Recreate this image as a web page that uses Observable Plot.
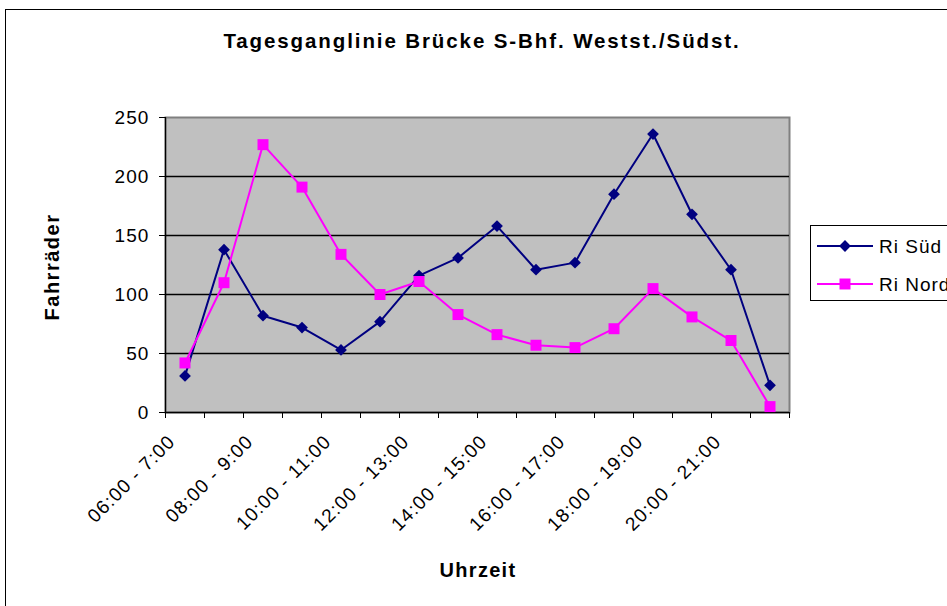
<!DOCTYPE html>
<html>
<head>
<meta charset="utf-8">
<script src="https://cdn.jsdelivr.net/npm/d3@7"></script>
<script src="https://cdn.jsdelivr.net/npm/@observablehq/plot@0.6"></script>
<style>
  html, body { margin: 0; padding: 0; background: #fff; overflow: hidden; }
  #wrap { position: relative; width: 947px; height: 606px; overflow: hidden; font-family: "Liberation Sans", Arial, sans-serif; }
  #border { position: absolute; left: 5px; top: 9px; width: 1100px; height: 800px; border: 1.5px solid #000; box-sizing: border-box; }
  #chart { position: absolute; left: 0; top: 0; }
  #overlay { position: absolute; left: 0; top: 0; pointer-events: none; }
</style>
</head>
<body>
<div id="wrap">
  <div id="border"></div>
  <div id="chart"></div>
  <svg id="overlay" width="947" height="606"></svg>
</div>
<script>
const categories = [
  "06:00 - 7:00", "07:00 - 8:00", "08:00 - 9:00", "09:00 - 10:00",
  "10:00 - 11:00", "11:00 - 12:00", "12:00 - 13:00", "13:00 - 14:00",
  "14:00 - 15:00", "15:00 - 16:00", "16:00 - 17:00", "17:00 - 18:00",
  "18:00 - 19:00", "19:00 - 20:00", "20:00 - 21:00", "21:00 - 22:00"
];
const riSued = [31, 138, 82, 72, 53, 77, 116, 131, 158, 121, 127, 185, 236, 168, 121, 23];
const riNord = [42, 110, 227, 191, 134, 100, 111, 83, 66, 57, 55, 71, 105, 81, 61, 5];
const yTicks = [0, 50, 100, 150, 200, 250];
const seriesNames = ["Ri Süd", "Ri Nord"];
const seriesColors = ["#000080", "#FF00FF"];
const title = "Tagesganglinie Brücke S-Bhf. Westst./Südst.";
const xTitle = "Uhrzeit";
const yTitle = "Fahrräder";

const sued = categories.map((c, i) => ({i: i + 0.5, v: riSued[i], cat: c}));
const nord = categories.map((c, i) => ({i: i + 0.5, v: riNord[i], cat: c}));
const labelTicks = categories.map((c, i) => i + 0.5).filter((d, k) => k % 2 === 0);

const chart = Plot.plot({
  width: 947,
  height: 606,
  marginLeft: 165,
  marginRight: 158,
  marginTop: 117,
  marginBottom: 194,
  style: {fontFamily: "'Liberation Sans', Arial, sans-serif", fontSize: "19px", letterSpacing: "1.1px", color: "#000", background: "transparent"},
  x: {type: "linear", domain: [0, categories.length]},
  y: {domain: [0, 250]},
  marks: [
    Plot.frame({fill: "#C0C0C0", stroke: "#808080", strokeWidth: 2}),
    Plot.gridY({ticks: [50, 100, 150, 200], stroke: "#000", strokeOpacity: 1, strokeWidth: 1.3}),
    Plot.axisY({ticks: yTicks, tickSize: 6, tickPadding: 10, fontSize: 19, label: null, stroke: "#000"}),
    Plot.axisX({ticks: d3.range(categories.length + 1), tickFormat: () => "", tickSize: 6, label: null}),
    Plot.axisX({ticks: labelTicks, tickFormat: d => categories[Math.round(d - 0.5)], tickRotate: -45, tickSize: 0, tickPadding: 26, dx: -13, fontSize: 19, letterSpacing: "0.8px", label: null}),
    Plot.ruleX([0], {stroke: "#000", strokeWidth: 1.3}),
    Plot.ruleY([0], {stroke: "#000", strokeWidth: 1.3}),
    Plot.line(sued, {x: "i", y: "v", stroke: seriesColors[0], strokeWidth: 2}),
    Plot.line(nord, {x: "i", y: "v", stroke: seriesColors[1], strokeWidth: 2}),
    Plot.dot(sued, {x: "i", y: "v", symbol: "diamond2", r: 5.3, fill: seriesColors[0], stroke: "none"}),
    Plot.dot(nord, {x: "i", y: "v", symbol: "square", r: 6.2, fill: seriesColors[1], stroke: "none"})
  ]
});
document.getElementById("chart").appendChild(chart);

// Titles and legend overlay
const ov = d3.select("#overlay");
ov.append("text").attr("x", 482).attr("y", 48).attr("text-anchor", "middle")
  .attr("font-weight", "bold").attr("font-size", 20.5).attr("letter-spacing", "1.9px").text(title);
ov.append("text").attr("x", 478).attr("y", 577).attr("text-anchor", "middle")
  .attr("font-weight", "bold").attr("font-size", 20).attr("letter-spacing", "1.3px").text(xTitle);
ov.append("text").attr("transform", "translate(59,267) rotate(-90)").attr("text-anchor", "middle")
  .attr("font-weight", "bold").attr("font-size", 20).attr("letter-spacing", "1.5px").text(yTitle);

const lg = ov.append("g");
lg.append("rect").attr("x", 810.5).attr("y", 225.5).attr("width", 200).attr("height", 75)
  .attr("fill", "#fff").attr("stroke", "#000").attr("stroke-width", 1);
const rowsY = [246, 284];
seriesNames.forEach((name, k) => {
  const y = rowsY[k];
  lg.append("line").attr("x1", 817).attr("x2", 873).attr("y1", y).attr("y2", y)
    .attr("stroke", seriesColors[k]).attr("stroke-width", 2);
  const sym = k === 0 ? d3.symbol(d3.symbolDiamond2, 5.3 * 5.3 * Math.PI) : d3.symbol(d3.symbolSquare, 6.2 * 6.2 * Math.PI);
  lg.append("path").attr("d", sym()).attr("transform", `translate(845,${y})`).attr("fill", seriesColors[k]);
  lg.append("text").attr("x", 879).attr("y", y + 7).attr("font-size", 19).attr("letter-spacing", "1px").text(name);
});
</script>
</body>
</html>
